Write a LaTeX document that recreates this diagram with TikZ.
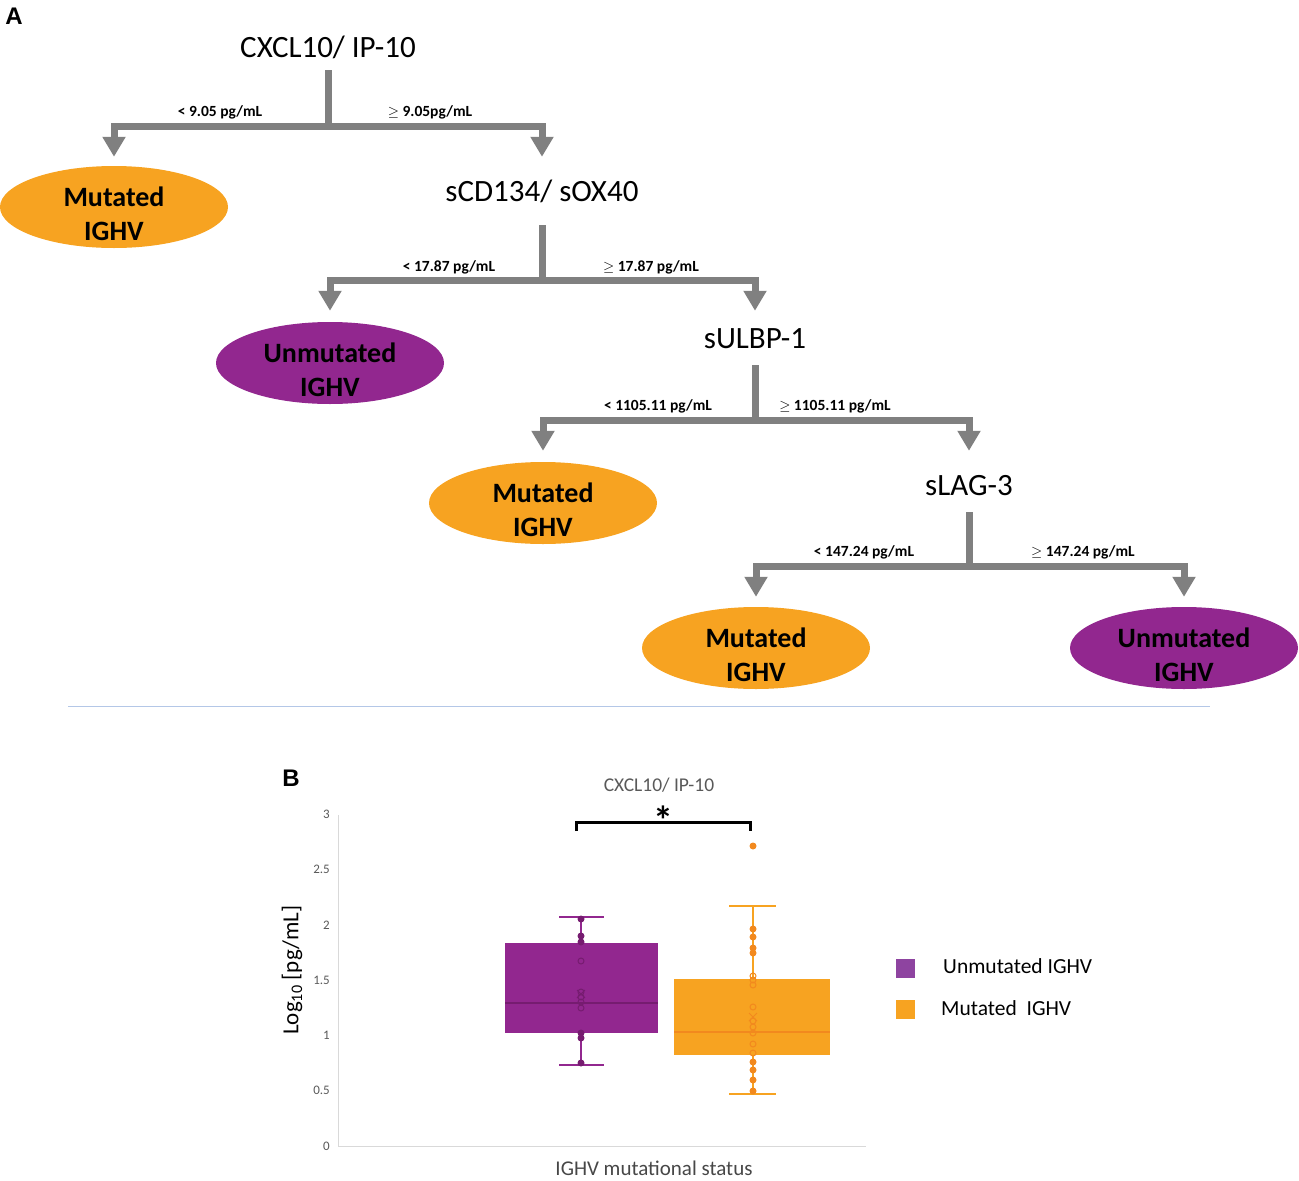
\documentclass[tikz,border=0pt]{standalone}
\usepackage{fontspec}
\setmainfont{Carlito}
\newfontfamily\arialf{Liberation Sans}
\usetikzlibrary{shapes.geometric,arrows.meta}
\definecolor{gbar}{RGB}{128,128,128}
\definecolor{orng}{RGB}{247,163,33}
\definecolor{orngd}{RGB}{242,137,30}
\definecolor{purp}{RGB}{146,39,143}
\definecolor{purpd}{RGB}{118,28,112}
\definecolor{legp}{RGB}{142,68,160}
\definecolor{axisg}{RGB}{217,217,217}
\definecolor{textg}{RGB}{89,89,89}
\definecolor{sepb}{RGB}{180,199,231}
\begin{document}
\begin{tikzpicture}[x=1pt,y=-1pt,
  split/.style={font=\fontsize{31}{36}\selectfont, inner sep=0pt, minimum height=40pt},
  leaf/.style={ellipse, minimum width=228pt, minimum height=82pt, inner sep=0pt, align=center,
    font=\bfseries\fontsize{28}{34}\selectfont},
  mut/.style={leaf, fill=orng},
  unm/.style={leaf, fill=purp},
  lbl/.style={font=\bfseries\fontsize{15.5}{18}\selectfont, inner sep=0pt},
  stemline/.style={draw=gbar, line width=7pt},
  branch/.style={draw=gbar, line width=7pt, line join=miter, -{Triangle[width=22pt,length=20pt]}},
  panel/.style={font=\arialf\bfseries\fontsize{24}{28}\selectfont, inner sep=0pt},
  tick/.style={font=\fontsize{13}{15}\selectfont, text=textg, inner sep=0pt, anchor=east},
  lgtext/.style={font=\fontsize{21.5}{25}\selectfont, anchor=west, inner sep=0pt}
]
\useasboundingbox (0,0) rectangle (1299,1181);

% ---------- Panel A ----------
\node[panel] (pA) at (14,16) {A};

\node[split] (s1) at (328,47) {CXCL10/ IP-10};
\node[mut] (m1) at (114,207) {};
\node[split] (s2) at (542,191) {sCD134/ sOX40};
\node[unm] (u1) at (330,363) {};
\node[split] (s3) at (755,339) {sULBP-1};
\node[mut] (m2) at (543,503) {};
\node[split] (s4) at (969,486) {sLAG-3};
\node[mut] (m3) at (756,648) {};
\node[unm] (u2) at (1184,648) {};
\foreach \n/\t in {m1/Mutated, u1/Unmutated, m2/Mutated, m3/Mutated, u2/Unmutated}
  \node[font=\bfseries\fontsize{28}{34}\selectfont, inner sep=0pt, align=center] at ([yshift=-7pt]\n.center) {\t\\IGHV};

\coordinate (j1) at (328,126);
\coordinate (j2) at (542,280);
\coordinate (j3) at (755,420);
\coordinate (j4) at (969,566);

\draw[stemline] ([yshift=-23pt]s1.center) -- (j1);
\draw[branch, shorten >=9pt] (j1) -| (m1);
\draw[branch, shorten >=14pt] (j1) -| (s2);
\node[lbl] (l1) at (220,112) {< 9.05 pg/mL};
\node[lbl] (l2) at (430,112) {$\geq$ 9.05pg/mL};

\draw[stemline] ([yshift=-34pt]s2.center) -- (j2);
\draw[branch, shorten >=11pt] (j2) -| (u1);
\draw[branch, shorten >=8pt] (j2) -| (s3);
\node[lbl] (l3) at (449,267) {< 17.87 pg/mL};
\node[lbl] (l4) at (651,267) {$\geq$ 17.87 pg/mL};

\draw[stemline] ([yshift=-26pt]s3.center) -- (j3);
\draw[branch, shorten >=11pt] (j3) -| (m2);
\draw[branch, shorten >=15pt] (j3) -| (s4);
\node[lbl] (l5) at (658,406) {< 1105.11 pg/mL};
\node[lbl] (l6) at (835,406) {$\geq$ 1105.11 pg/mL};

\draw[stemline] ([yshift=-26pt]s4.center) -- (j4);
\draw[branch, shorten >=10pt] (j4) -| (m3);
\draw[branch, shorten >=10pt] (j4) -| (u2);
\node[lbl] (l7) at (864,552) {< 147.24 pg/mL};
\node[lbl] (l8) at (1083,552) {$\geq$ 147.24 pg/mL};

% separator
\draw[sepb, line width=1pt] (68,706) -- (1210,706);

% ---------- Panel B ----------
\node[panel] (pB) at (291,778) {B};
\node[font=\fontsize{19.5}{23}\selectfont, text=textg, inner sep=0pt] (title) at (659,785) {CXCL10/ IP-10};

% axes
\draw[axisg, line width=1pt] (338,815) -- (338,1146) -- (866,1146);
\foreach \v in {0,0.5,1,1.5,2,2.5,3}
  \node[tick] at (330,{1146-110.5*\v}) {\v};

\node[rotate=90, font=\fontsize{23}{27}\selectfont, inner sep=0pt] (ylab) at (292,970) {Log\textsubscript{10} [pg/mL]};
\node[font=\fontsize{21}{25}\selectfont, text=textg!80!black, inner sep=0pt] (xlab) at (654,1168) {IGHV mutational status};

% significance bracket
\draw[black, line width=3pt, line join=miter] (576,831) -- (576,822) -- (750,822) -- (750,831);
\node[font=\bfseries\fontsize{40}{44}\selectfont, inner sep=0pt, anchor=base] (star) at (663,834) {*};

% purple box
\draw[purp, line width=1.5pt] (581,917) -- (581,943) (581,1033) -- (581,1065);
\draw[purp, line width=1.5pt] (559,917) -- (604,917) (559,1065) -- (604,1065);
\fill[purp] (505,943) rectangle (658,1033);
\draw[purpd, line width=1.5pt] (505,1003) -- (658,1003);
\foreach \y in {919,936,942,1033,1038,1063} \fill[purpd] (581,\y) circle (3.5pt);
\foreach \y in {961,992,997,1002,1008} \draw[purpd, line width=1pt] (581,\y) circle (3pt);
\draw[purpd, line width=1pt] (577,990) -- (585,998) (577,998) -- (585,990);

% orange box
\draw[orng, line width=1.5pt] (753,906) -- (753,979) (753,1055) -- (753,1094);
\draw[orng, line width=1.5pt] (729,906) -- (776,906) (729,1094) -- (776,1094);
\fill[orng] (674,979) rectangle (830,1055);
\draw[orngd, line width=1.5pt] (674,1032) -- (830,1032);
\foreach \y in {846,929,937,948,953,1062,1070,1080,1091} \fill[orngd] (753,\y) circle (3.5pt);
\foreach \y in {976,980,985,1007,1021,1027,1033,1044,1053} \draw[orngd, line width=1pt] (753,\y) circle (3pt);
\draw[orngd, line width=1pt] (749,1013) -- (757,1021) (749,1021) -- (757,1013);

% legend
\node[fill=legp, minimum size=19pt, inner sep=0pt] (lgp) at (905,968) {};
\node[lgtext] (lgpt) at (943,966) {Unmutated IGHV};
\node[fill=orng, minimum size=19pt, inner sep=0pt] (lgo) at (905,1009) {};
\node[lgtext] (lgot) at (941,1008) {Mutated\ \ IGHV};
\end{tikzpicture}
\end{document}
